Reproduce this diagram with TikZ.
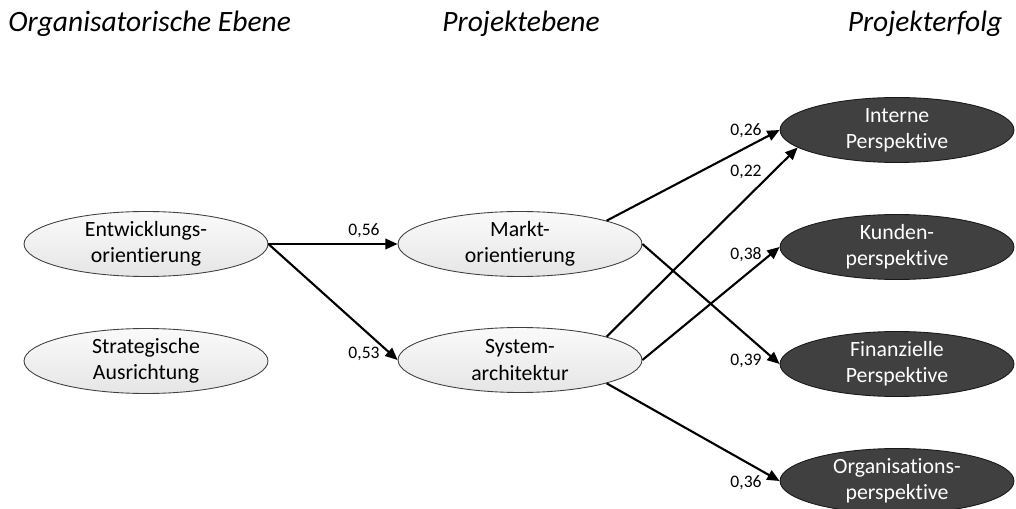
\documentclass[tikz,border=0pt]{standalone}
\usepackage{fontspec}
\setmainfont{Carlito}[Ligatures=NoCommon]
\usetikzlibrary{arrows.meta,shapes.geometric}

\tikzset{
  knoten/.style={ellipse, line width=0.5pt, minimum height=1.3cm, inner xsep=0pt, inner ysep=-1pt,
    align=center, font=\fontsize{12.4}{15}\selectfont},
  konstrukt/.style={knoten, draw=black!75, top color=gray!4, bottom color=gray!20, minimum width=4.88cm},
  erfolg/.style={knoten, draw=black!90, fill=black!75, text=white, minimum width=4.68cm},
  pfad/.style={line width=1.2pt, -{Triangle[length=7pt,width=6pt]}},
  koeff/.style={font=\fontsize{10}{12}\selectfont, inner sep=1pt},
  ebene/.style={font=\itshape\fontsize{16.8}{20}\selectfont, inner sep=0pt}
}

\begin{document}
\begin{tikzpicture}[x=0.02cm,y=-0.02cm]
\useasboundingbox (0,0) rectangle (1016,509);

% Ebenen
\node[ebene, anchor=west] (orgebene) at (8,24) {Organisatorische Ebene};
\node[ebene] (projebene) at (521,24) {Projektebene};
\node[ebene] (projerfolg) at (925,24) {Projekterfolg};

% Konstrukte
\node[konstrukt] (entw) at (146,244) {Entwicklungs-\\orientierung};
\node[konstrukt] (strat) at (146,361) {Strategische\\Ausrichtung};
\node[konstrukt] (markt) at (520,244) {Markt-\\orientierung};
\node[konstrukt] (system) at (520,360) {System-\\architektur};

\node[erfolg] (intern) at (897,130) {Interne\\Perspektive};
\node[erfolg] (kunden) at (897,247) {Kunden-\\perspektive};
\node[erfolg] (finanz) at (897,364) {Finanzielle\\Perspektive};
\node[erfolg] (orga) at (897,481) {Organisations-\\perspektive};

% Pfade
\draw[pfad] (entw.east) -- (markt.west);
\draw[pfad] (entw.east) -- (system.west);
\draw[pfad] (markt.north east) -- (intern.west);
\draw[pfad] (markt.east) -- (finanz.west);
\draw[pfad] (system.north east) -- (intern.190);
\draw[pfad] (system.east) -- (kunden.west);
\draw[pfad] (system.south east) -- (orga.west);

% Pfadkoeffizienten
\node[koeff] (k1) at (364,231) {0,56};
\node[koeff] (k2) at (364,354) {0,53};
\node[koeff] (k3) at (746,131) {0,26};
\node[koeff] (k4) at (746,172) {0,22};
\node[koeff] (k5) at (746,255) {0,38};
\node[koeff] (k6) at (746,361) {0,39};
\node[koeff] (k7) at (746,483) {0,36};
\end{tikzpicture}
\end{document}
